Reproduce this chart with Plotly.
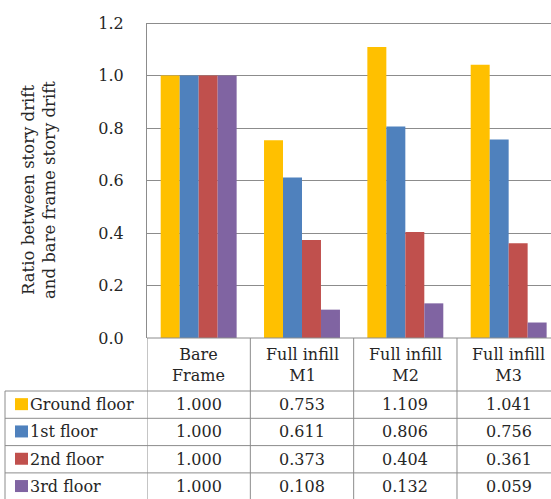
import plotly.graph_objects as go

# Data
categories = ["Bare<br>Frame", "Full infill<br>M1", "Full infill<br>M2", "Full infill<br>M3"]
series_names = ["Ground floor", "1st floor", "2nd floor", "3rd floor"]
ground_floor = [1.000, 0.753, 1.109, 1.041]
first_floor = [1.000, 0.611, 0.806, 0.756]
second_floor = [1.000, 0.373, 0.404, 0.361]
third_floor = [1.000, 0.108, 0.132, 0.059]
series_values = [ground_floor, first_floor, second_floor, third_floor]
colors = ["#FFC000", "#4F81BD", "#C0504D", "#8064A2"]
y_ticks = [0.0, 0.2, 0.4, 0.6, 0.8, 1.0, 1.2]

W, H = 551, 499
FONT = "DejaVu Serif"
FS = 16
TXT = "#262626"
LINE = "#8c8c8c"


def fx(p):
    return p / W


def fy(p):
    return 1 - p / H


# plot area in pixels
PL, PT, PB = 147, 23, 338
CAT_W = 103.33
x_pos = list(range(len(categories)))

fig = go.Figure()
for name, vals, col in zip(series_names, series_values, colors):
    fig.add_trace(go.Bar(x=x_pos, y=vals, name=name, marker=dict(color=col, line=dict(width=0)),
                         showlegend=False))

fig.update_layout(
    template="none",
    width=W, height=H,
    margin=dict(l=0, r=0, t=0, b=0, pad=0, autoexpand=False),
    paper_bgcolor="white", plot_bgcolor="white",
    barmode="group", bargap=0.265, bargroupgap=0,
    font=dict(family=FONT, color=TXT, size=FS),
    xaxis=dict(domain=[fx(PL), 1], range=[-0.5, -0.5 + (W - PL) / CAT_W],
               showticklabels=False, showgrid=False, zeroline=False,
               showline=False, ticks="", automargin=False),
    yaxis=dict(domain=[fy(PB), fy(PT)], range=[0, 1.2], tickvals=y_ticks,
               ticktext=[f"{v:.1f}" for v in y_ticks],
               showgrid=True, gridcolor=LINE, gridwidth=1, zeroline=False,
               showline=True, linecolor=LINE, linewidth=1, ticks="",
               automargin=False,
               ticklabelstandoff=19, tickfont=dict(family=FONT, size=FS, color=TXT)),
)

shapes = []
annotations = []

# top edge of the plot area (1.2 level), drawn as a thin filled band
shapes.append(dict(type="rect", xref="paper", yref="paper", x0=fx(PL), x1=1,
                   y0=fy(PT + 1), y1=fy(PT), fillcolor=LINE, line=dict(width=0),
                   layer="above"))

# y-axis title
annotations.append(dict(x=fx(39), y=fy(190), xref="paper", yref="paper",
                        text="Ratio between story drift<br>and bare frame story drift",
                        textangle=-90, showarrow=False,
                        font=dict(family=FONT, size=16.5, color=TXT),
                        xanchor="center", yanchor="middle"))

# data table: row boundaries in pixels
header_top, header_bot = PB, 391
row_h = 27.3
row_edges = [header_bot + i * row_h for i in range(len(series_names) + 1)]
TL = 5  # left edge of the label column

# x axis line / header top
shapes.append(dict(type="line", xref="paper", yref="paper", x0=fx(PL), x1=1,
                   y0=fy(header_top), y1=fy(header_top), line=dict(color=LINE, width=1)))
# horizontal table lines
for e in row_edges[:-1]:
    shapes.append(dict(type="line", xref="paper", yref="paper", x0=fx(TL), x1=1,
                       y0=fy(e), y1=fy(e), line=dict(color=LINE, width=1)))
# left border of label column
shapes.append(dict(type="line", xref="paper", yref="paper", x0=fx(TL), x1=fx(TL),
                   y0=fy(header_bot), y1=0, line=dict(color=LINE, width=1)))
# column separators
for i in range(len(categories)):
    shapes.append(dict(type="line", xref="x", yref="paper", x0=i - 0.5, x1=i - 0.5,
                       y0=fy(header_top), y1=0, line=dict(color=LINE, width=1)))

# header labels
for i, cat in enumerate(categories):
    annotations.append(dict(x=i, y=fy((header_top + header_bot) / 2), xref="x", yref="paper",
                            text=cat, showarrow=False,
                            font=dict(family=FONT, size=FS, color=TXT),
                            xanchor="center", yanchor="middle"))

# rows: legend key, series name, values
for r, (name, vals, col) in enumerate(zip(series_names, series_values, colors)):
    yc = (row_edges[r] + row_edges[r + 1]) / 2
    shapes.append(dict(type="rect", xref="paper", yref="paper", x0=fx(15), x1=fx(28),
                       y0=fy(yc - 6.5), y1=fy(yc + 5.5), fillcolor=col, line=dict(width=0)))
    annotations.append(dict(x=fx(28), y=fy(yc), xref="paper", yref="paper", text=name,
                            showarrow=False, font=dict(family=FONT, size=FS, color=TXT),
                            xanchor="left", yanchor="middle"))
    for i, v in enumerate(vals):
        annotations.append(dict(x=i, y=fy(yc), xref="x", yref="paper", text=f"{v:.3f}",
                                showarrow=False, font=dict(family=FONT, size=FS, color=TXT),
                                xanchor="center", yanchor="middle"))

fig.update_layout(shapes=shapes, annotations=annotations)
fig.write_html("out.html")
